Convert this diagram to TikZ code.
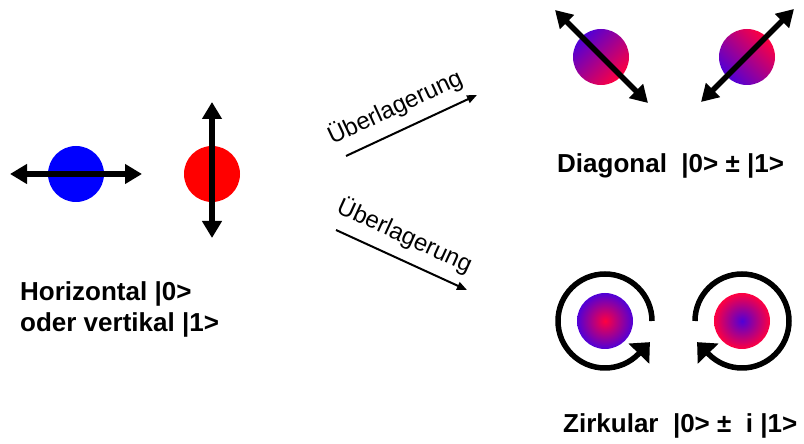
\documentclass[tikz,border=0pt]{standalone}
\usepackage{fontspec}
\setmainfont{Liberation Sans}
\usetikzlibrary{arrows.meta}

\definecolor{qred}{RGB}{255,0,64}
\definecolor{qblue}{RGB}{80,0,215}

\begin{document}
\begin{tikzpicture}[x=1pt, y=1pt,
  dot/.style={circle, minimum size=56pt, inner sep=0pt},
  pol/.style={line width=5.5pt, {Triangle[length=17pt,width=19pt]}-{Triangle[length=17pt,width=19pt]}},
  spin/.style={line width=5.5pt, -{Triangle[length=16pt,width=28pt]}},
  mix/.style={line width=2pt, -{Triangle[length=10pt,width=8pt]}},
  mixlbl/.style={font=\fontsize{24}{28}\selectfont, sloped, above, inner sep=10pt, pos=0.45},
  lbl/.style={font=\bfseries\fontsize{26}{31}\selectfont, anchor=base west, inner sep=0pt}]
\useasboundingbox (0,0) rectangle (804,444);
%
% --- Basis states (horizontal / vertical) ---
\node[dot, fill=blue] (hdot) at (76,270) {};
\node[dot, fill=red] (vdot) at (212,270) {};
\coordinate (hL) at (10,270);
\coordinate (hR) at (142,270);
\coordinate (vT) at (212,342);
\coordinate (vB) at (212,206);
\draw[pol] (hL)--(hR);
\draw[pol] (vT)--(vB);
\node[lbl] (basis1) at (20,143) {Horizontal |0>};
\node[lbl] (basis2) at (20,112) {oder vertikal |1>};
%
% --- Superposition arrows ---
\coordinate (up1) at (346,288);
\coordinate (up2) at (477,349);
\coordinate (dn1) at (336,214);
\coordinate (dn2) at (467,154);
\draw[mix] (up1)-- node[mixlbl] {Überlagerung} (up2);
\draw[mix] (dn1)-- node[mixlbl] {Überlagerung} (dn2);
%
% --- Diagonal states ---
\node[dot, left color=qblue, right color=qred, shading angle=45] (ddot1) at (601,387) {};
\node[dot, left color=qred, right color=qblue, shading angle=-45] (ddot2) at (747,387) {};
\coordinate (d1a) at (555,434);
\coordinate (d1b) at (648,341);
\coordinate (d2a) at (701,342);
\coordinate (d2b) at (794,435);
\draw[pol] (d1a)--(d1b);
\draw[pol] (d2a)--(d2b);
\node[lbl] (diag) at (557,271) {Diagonal\ \ |0> ± |1>};
%
% --- Circular states ---
\node[dot, inner color=qred, outer color=qblue] (cdot1) at (605,123) {};
\node[dot, inner color=qblue, outer color=qred] (cdot2) at (742,123) {};
\coordinate (c1s) at (652,123);
\coordinate (c2s) at (695,123);
\draw[spin] (c1s) arc[start angle=0, end angle=316, radius=47] -- ++(46:16);
\draw[spin] (c2s) arc[start angle=180, end angle=-136, radius=47] -- ++(134:16);
\node[lbl] (circ) at (563,11) {Zirkular\ \ |0> ±\ \ i |1>};
%
\end{tikzpicture}
\end{document}
